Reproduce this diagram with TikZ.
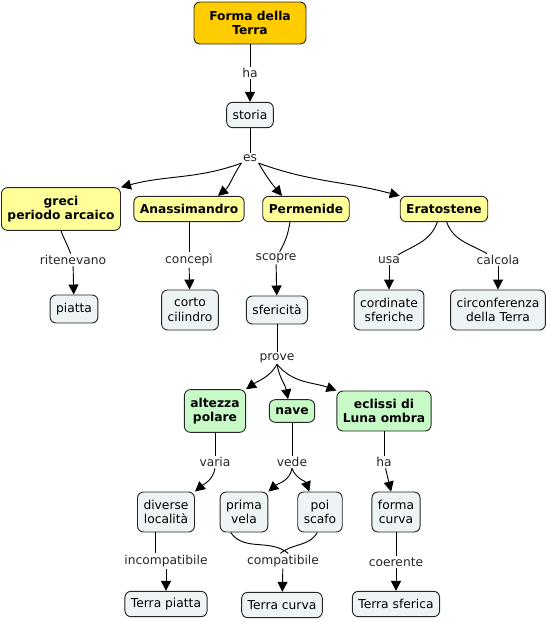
\documentclass[tikz,border=0pt]{standalone}
\usepackage{fontspec}
\setmainfont{DejaVu Sans}
\usepackage{xcolor}
\usepackage{tikz}
\usetikzlibrary{arrows.meta, positioning}

\definecolor{topfill}{HTML}{FFCC00}
\definecolor{yelfill}{HTML}{FFFF99}
\definecolor{grnfill}{HTML}{C8FAC8}
\definecolor{grayfill}{HTML}{EEF3F5}

\begin{document}
\begin{tikzpicture}[
  x=0.75pt, y=-0.75pt,
  font=\fontsize{9.2}{11}\selectfont,
  concept/.style={rectangle, draw=black!85, line width=0.7pt, rounded corners=4.5pt, fill=#1, align=center, inner xsep=4.5pt, inner ysep=3.5pt, minimum height=19pt},
  keyc/.style={concept=#1, font=\fontsize{9.2}{11}\selectfont\bfseries},
  twoline/.style={concept=grayfill, minimum height=30pt},
  link/.style={inner sep=1pt, fill=white, text=black!85},
  conn/.style={line width=0.7pt},
  arrow/.style={-{Triangle[length=7.5pt,width=7.5pt]}, line width=0.7pt}
]
  \useasboundingbox (0,0) rectangle (548,621);

  \node[keyc=topfill, minimum width=84pt, minimum height=31.5pt] (forma) at (250,23) {Forma della\\ Terra};
  \node[link] (ha1) at (250,73) {ha};
  \node[concept=grayfill] (storia) at (250,115) {storia};
  \node[link] (es) at (250,158) {es};

  \node[keyc=yelfill, minimum width=88pt, minimum height=32pt] (greci) at (61,209) {greci\\ periodo arcaico};
  \node[keyc=yelfill] (anass) at (189,209) {Anassimandro};
  \node[keyc=yelfill] (perm) at (306,209) {Permenide};
  \node[keyc=yelfill] (erat) at (444,209) {Eratostene};

  \node[link] (riten) at (73,260) {ritenevano};
  \node[link] (conc) at (189,260) {concepì};
  \node[link] (scopre) at (276,258) {scopre};
  \node[link] (usa) at (389,260) {usa};
  \node[link] (calc) at (498,260) {calcola};

  \node[concept=grayfill, minimum height=21pt] (piatta) at (74,309) {piatta};
  \node[twoline] (cilindro) at (190,310) {corto\\ cilindro};
  \node[concept=grayfill, minimum height=21pt] (sfer) at (277,310) {sfericità};
  \node[twoline] (cord) at (389,310) {cordinate\\ sferiche};
  \node[twoline] (circ) at (498,310) {circonferenza\\ della Terra};

  \node[link] (prove) at (277,358) {prove};
  \node[keyc=grnfill, minimum height=32pt] (alt) at (215,411) {altezza\\ polare};
  \node[keyc=grnfill, minimum height=17pt] (nave) at (292,411) {nave};
  \node[keyc=grnfill, minimum height=30pt] (ecl) at (384,411) {eclissi di\\ Luna ombra};

  \node[link] (varia) at (215,462) {varia};
  \node[link] (vede) at (292,462) {vede};
  \node[link] (ha2) at (384,462) {ha};

  \node[twoline] (divers) at (166,512) {diverse\\ località};
  \node[twoline] (prima) at (244,512) {prima\\ vela};
  \node[twoline] (poi) at (320,512) {poi\\ scafo};
  \node[twoline] (fcurva) at (396,512) {forma\\ curva};

  \node[link] (incomp) at (166,561) {incompatibile};
  \node[link] (comp) at (283,561) {compatibile};
  \node[link] (coer) at (396,562) {coerente};

  \node[concept=grayfill] (tpiatta) at (166,604) {Terra piatta};
  \node[concept=grayfill] (tcurva) at (282,605) {Terra curva};
  \node[concept=grayfill] (tsfer) at (396,604) {Terra sferica};

  % links
  \draw[conn] (forma) -- (ha1);
  \draw[arrow] (ha1) -- (storia);
  \draw[conn] (storia) -- (es);
  \draw[arrow] (es.south west) to[out=200, in=15] (greci.north east);
  \draw[arrow] (es.south west) to[out=235, in=40] ([xshift=-20pt]anass.north east);
  \draw[arrow] (es.south east) to[out=300, in=130] ([xshift=-18pt]perm.north);
  \draw[arrow] (es.south east) to[out=340, in=165] (erat.north west);

  \draw[conn] (greci.south) to[out=-70, in=110] (riten);
  \draw[arrow] (riten) -- (piatta);
  \draw[conn] (anass) -- (conc);
  \draw[arrow] (conc) -- (cilindro);
  \draw[conn] ([xshift=-12pt]perm.south) to[out=-100, in=60] (scopre);
  \draw[arrow] (scopre) -- (sfer);
  \draw[conn] ([xshift=-5pt]erat.south) to[out=-110, in=30] (usa);
  \draw[arrow] (usa) -- (cord);
  \draw[conn] ([xshift=2pt]erat.south) to[out=-70, in=150] (calc);
  \draw[arrow] (calc) -- (circ);

  \draw[conn] (sfer) -- (prove);
  \draw[arrow] (prove.south) to[out=240, in=35] (alt.north east);
  \draw[arrow] (prove.south) to[out=-80, in=100] ([xshift=-3pt]nave.north);
  \draw[arrow] (prove.south) to[out=-50, in=160] (ecl.north west);

  \draw[conn] (alt) -- (varia);
  \draw[arrow] (varia.south) to[out=-100, in=40] (divers.north east);
  \draw[conn] (nave) -- (vede);
  \draw[arrow] (vede.south) to[out=-100, in=40] (prima.north east);
  \draw[arrow] (vede.south) to[out=-70, in=110] ([xshift=-8pt]poi.north);
  \draw[conn] (ecl) -- (ha2);
  \draw[arrow] (ha2) -- (fcurva);

  \draw[conn] ([xshift=-8pt]divers.south) -- ([xshift=-8pt]incomp.north);
  \draw[arrow] (incomp) -- (tpiatta);
  \draw[conn] ([xshift=-10pt]prima.south) to[out=-55, in=140] ([xshift=4pt]comp.north);
  \draw[conn] ([xshift=-2pt]poi.south) to[out=-120, in=40] ([xshift=-2pt]comp.north);
  \draw[arrow] (comp) -- (tcurva);
  \draw[conn] (fcurva) -- (coer);
  \draw[arrow] (coer) -- (tsfer);
\end{tikzpicture}
\end{document}
